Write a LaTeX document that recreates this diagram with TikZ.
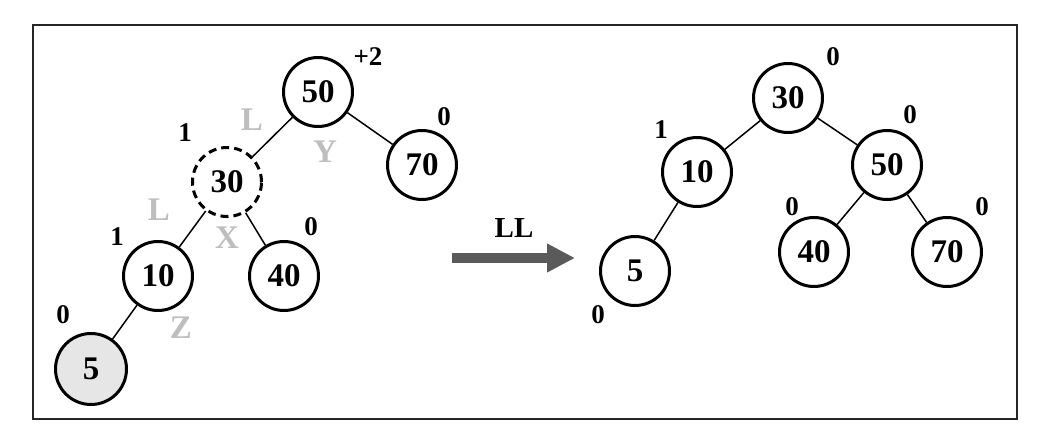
\documentclass[tikz,border=0pt]{standalone}
\usepackage{fontspec}
\setmainfont{Liberation Serif}
\usetikzlibrary{arrows.meta}
\definecolor{lgray}{HTML}{BEBEBE}
\definecolor{agray}{HTML}{5A5A5A}
\definecolor{nfill}{HTML}{E6E6E6}
\tikzset{
  tn/.style={circle, draw=black, line width=3pt, minimum size=#1, inner sep=0pt,
    font=\fontsize{33}{35}\selectfont\bfseries},
  tn/.default=69pt,
  bal/.style={font=\fontsize{27}{29}\selectfont\bfseries, inner sep=0pt},
  dir/.style={font=\fontsize{33}{35}\selectfont\bfseries, text=lgray, inner sep=0pt},
  edge/.style={line width=1.5pt}
}
\begin{document}
\begin{tikzpicture}[x=1pt,y=-1pt]
\useasboundingbox (0,0) rectangle (1050,434);
\draw[line width=2pt, draw=black!85] (33,25) rectangle (1017,419);
% left tree
\node[tn] (a50) at (318,92) {50};
\node[tn, dashed, dash pattern=on 8pt off 5pt] (a30) at (227,182) {30};
\node[tn] (a70) at (422,165) {70};
\node[tn] (a10) at (158,276) {10};
\node[tn] (a40) at (284,276) {40};
\node[tn=71pt, fill=nfill] (a5) at (91,369) {5};
\draw[edge] (a50) -- (a30);
\draw[edge] (a50) -- (a70);
\draw[edge] (a30) -- (a10);
\draw[edge] (a30) -- (a40);
\draw[edge] (a10) -- (a5);
\node[bal] (b1) at (368,57) {+2};
\node[bal] (b2) at (444,117) {0};
\node[bal] (b3) at (185,133) {1};
\node[bal] (b4) at (117,237) {1};
\node[bal] (b5) at (311,227) {0};
\node[bal] (b6) at (63,315) {0};
\node[dir] (d1) at (252,120) {L};
\node[dir] (d2) at (325,152) {Y};
\node[dir] (d3) at (159,210) {L};
\node[dir] (d4) at (227,238) {X};
\node[dir] (d5) at (181,328) {Z};
% arrow
\coordinate (s) at (452,258);
\coordinate (e) at (575,258);
\draw[agray, line width=10pt, -{Triangle[length=28pt, width=27pt]}] (s) -- (e);
\node[font=\fontsize{29}{31}\selectfont\bfseries, inner sep=0pt] (ll) at (514,228) {LL};
% right tree
\node[tn] (r30) at (788,98) {30};
\node[tn] (r10) at (697,172) {10};
\node[tn] (r50) at (887,165) {50};
\node[tn] (r5) at (635,271) {5};
\node[tn] (r40) at (814,252) {40};
\node[tn] (r70) at (947,252) {70};
\draw[edge] (r30) -- (r10);
\draw[edge] (r30) -- (r50);
\draw[edge] (r10) -- (r5);
\draw[edge] (r50) -- (r40);
\draw[edge] (r50) -- (r70);
\node[bal] (c1) at (833,57) {0};
\node[bal] (c2) at (661,130) {1};
\node[bal] (c3) at (910,115) {0};
\node[bal] (c4) at (792,207) {0};
\node[bal] (c5) at (982,207) {0};
\node[bal] (c6) at (598,315) {0};
\end{tikzpicture}
\end{document}
